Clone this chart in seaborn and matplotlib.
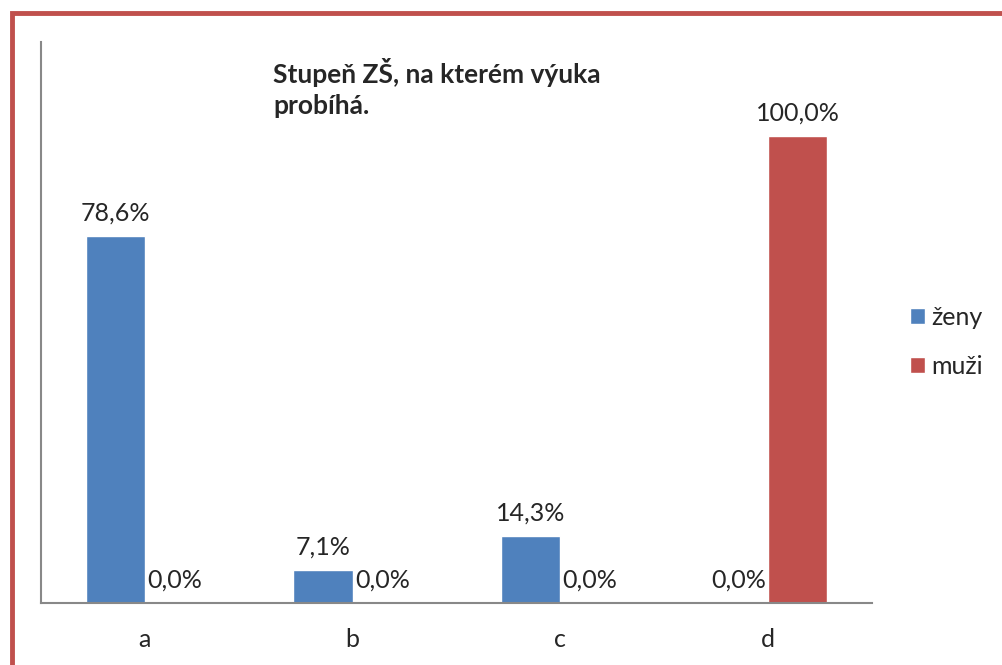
import pandas as pd
import matplotlib.pyplot as plt
import seaborn as sns
from matplotlib.patches import Rectangle

# data
kategorie = ['a', 'b', 'c', 'd']
zeny = [78.6, 7.1, 14.3, 0.0]
muzi = [0.0, 0.0, 0.0, 100.0]
skupiny = ['ženy', 'muži']
barvy = ['#4F81BD', '#C0504D']

df = pd.DataFrame({
    'kategorie': kategorie * 2,
    'hodnota': zeny + muzi,
    'skupina': [skupiny[0]] * 4 + [skupiny[1]] * 4,
})

sns.set_style('white')
plt.rcParams['font.family'] = ['Lato', 'DejaVu Sans']

fig = plt.figure(figsize=(10.03, 6.65), dpi=100)
ax = fig.add_axes([41 / 1003, 62 / 665, 831 / 1003, 561 / 665])

sns.barplot(data=df, x='kategorie', y='hodnota', hue='skupina',
            palette=barvy, width=0.57, saturation=1, ax=ax)

for cont in ax.containers:
    labels = [f'{b.get_height():.1f}%'.replace('.', ',') for b in cont]
    ax.bar_label(cont, labels=labels, padding=8, fontsize=18)

ax.set_ylim(0, 120)
ax.set_yticks([])
ax.set_xlabel('')
ax.set_ylabel('')
ax.tick_params(axis='x', length=0, labelsize=18, pad=18)
for s in ['top', 'right']:
    ax.spines[s].set_visible(False)
for s in ['left', 'bottom']:
    ax.spines[s].set_color('#888888')
    ax.spines[s].set_linewidth(1.5)

fig.text(273 / 1003, 1 - 58 / 665, 'Stupeň ZŠ, na kterém výuka\nprobíhá.',
         fontsize=19, fontweight='bold', va='top', ha='left', linespacing=1.35)

ax.legend(loc='center left', bbox_to_anchor=(910 / 1003, 1 - 342 / 665),
          bbox_transform=fig.transFigure, frameon=False, fontsize=18,
          handlelength=0.6, handleheight=0.6, handletextpad=0.25,
          labelspacing=1.05, borderaxespad=0, borderpad=0)

# red border of the chart area
fig.patches.append(Rectangle((12 / 1003, -0.1), 1.2, 1 - 12.5 / 665 + 0.1,
                             transform=fig.transFigure, fill=False,
                             edgecolor='#C0504D', linewidth=3.5))

fig.savefig('out.png', dpi=100)
